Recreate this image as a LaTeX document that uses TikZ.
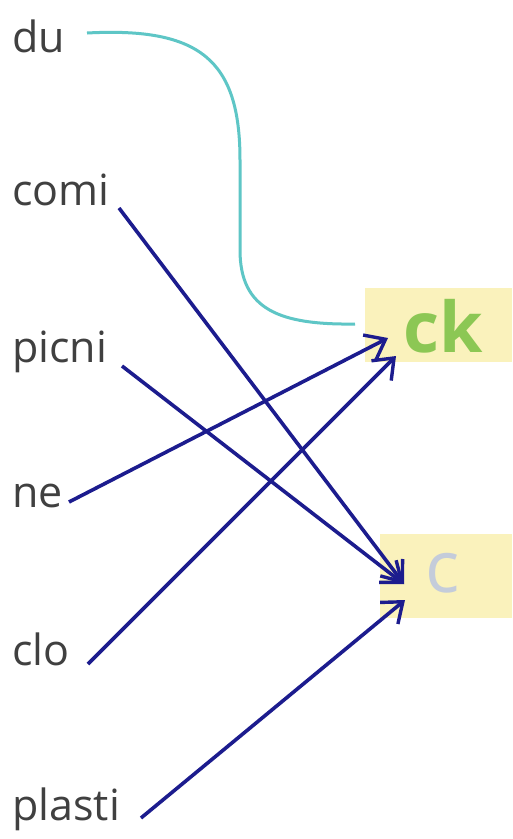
\documentclass[tikz,border=0pt]{standalone}
\usepackage{fontspec}
\setmainfont{Open Sans}
\usetikzlibrary{arrows.meta,calc}
\definecolor{wordc}{HTML}{404040}
\definecolor{arrc}{HTML}{1C1C8E}
\definecolor{cyanc}{HTML}{5EC6C6}
\definecolor{boxc}{HTML}{FAF2BC}
\definecolor{ckc}{HTML}{8CC754}
\definecolor{cc}{HTML}{C4CCDA}
\tikzset{
  word/.style={anchor=base west, inner sep=0pt, text=wordc, font=\fontsize{43}{46}\selectfont},
  link/.style={draw=arrc, line width=3.6pt, -{Straight Barb[length=18pt,width=28pt,line width=3.4pt]}},
  endbox/.style={fill=boxc, inner sep=0pt, anchor=north west},
}
\begin{document}
\begin{tikzpicture}[x=1pt,y=-1pt]
\useasboundingbox (0,0) rectangle (512,839);
\fill[white] (0,0) rectangle (512,839);
% boxes
\node[endbox, minimum width=147pt, minimum height=74pt] (ckbox) at (365,288) {};
\node[text=ckc, font=\fontsize{70}{72}\selectfont\bfseries, anchor=base, inner sep=0pt] (ck) at (443,352) {ck};
\node[endbox, minimum width=132pt, minimum height=84pt] (cbox) at (380,534) {};
\node[text=cc, font=\fontsize{72}{74}\selectfont, anchor=base, inner sep=0pt] (c) at (443,592) {c};
% words
\node[word] (du) at (12,52) {du};
\node[word] (comi) at (12,205) {comi};
\node[word] (picni) at (12,362) {picni};
\node[word] (ne) at (12,507) {ne};
\node[word] (clo) at (12,665) {clo};
\node[word] (plasti) at (12,820) {plasti};
% start points
\coordinate (scomi) at (119,208);
\coordinate (spicni) at (122,366);
\coordinate (sne) at (69,502);
\coordinate (sclo) at (88,664);
\coordinate (splasti) at (141,818);
% end points
\coordinate (eck1) at (388,338);
\coordinate (eck2) at (396,356);
\coordinate (ec1) at (404,584);
\coordinate (ec2) at (405,600);
% cyan line
\coordinate (sdu) at (87,33);
\coordinate (educk) at (355,324);
\draw[cyanc, line width=3pt] (sdu) .. controls (200,27) and (240,60) .. (240,160)
  -- (240,250) .. controls (240,310) and (280,325) .. (educk);
% arrows
\draw[link] (scomi) -- (ec1);
\draw[link] (spicni) -- (ec1);
\draw[link] (sne) -- (eck1);
\draw[link] (sclo) -- (eck2);
\draw[link] (splasti) -- (ec2);
\end{tikzpicture}
\end{document}
